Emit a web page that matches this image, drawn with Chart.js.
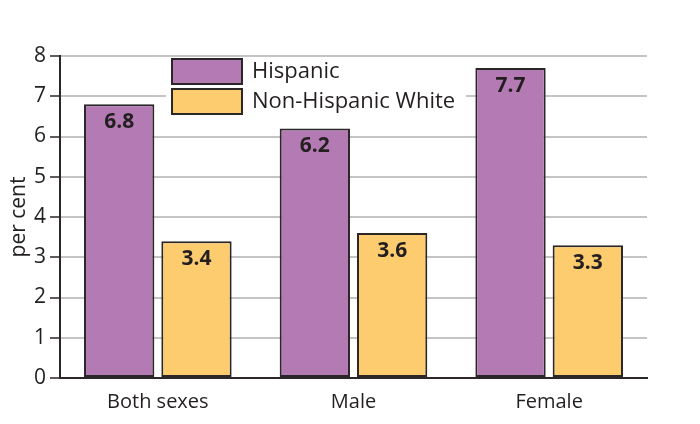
<!DOCTYPE html>
<html>
<head>
<meta charset="utf-8">
<script src="https://cdn.jsdelivr.net/npm/chart.js@4/dist/chart.umd.min.js"></script>
<style>
  html, body { margin: 0; padding: 0; background: #fff; }
  #wrap { width: 700px; height: 424px; position: relative; }
</style>
</head>
<body>
<div id="wrap"><canvas id="rateChart"></canvas></div>
<script>
// chart values
const categories = ['Both sexes', 'Male', 'Female'];
const hispanic = [6.8, 6.2, 7.7];
const nonHispanicWhite = [3.4, 3.6, 3.3];
const yTicks = [0, 1, 2, 3, 4, 5, 6, 7, 8];

const textColor = '#231f20';
const fontFamily = '"Open Sans", "Liberation Sans", sans-serif';

// legend drawn inside the plot, with a white box over the grid
const insideLegend = {
    id: 'insideLegend',
    afterDraw(chart) {
        const ctx = chart.ctx;
        ctx.save();
        ctx.fillStyle = '#fff';
        ctx.fillRect(166, 59, 300, 60);
        chart.data.datasets.forEach((ds, i) => {
            const y = 59 + i * 30;
            ctx.fillStyle = ds.backgroundColor;
            ctx.fillRect(172, y, 70, 25);
            ctx.strokeStyle = ds.borderColor;
            ctx.lineWidth = 2;
            ctx.strokeRect(172, y, 70, 25);
            ctx.fillStyle = textColor;
            ctx.font = '22px ' + fontFamily;
            ctx.textBaseline = 'middle';
            ctx.textAlign = 'left';
            ctx.fillText(ds.label, 252, y + 13);
        });
        ctx.restore();
    }
};

// value labels near the top of each bar
const barValues = {
    id: 'barValues',
    afterDatasetsDraw(chart) {
        const ctx = chart.ctx;
        ctx.save();
        ctx.fillStyle = textColor;
        ctx.font = 'bold 21px ' + fontFamily;
        ctx.textAlign = 'center';
        ctx.textBaseline = 'middle';
        chart.data.datasets.forEach((ds, i) => {
            chart.getDatasetMeta(i).data.forEach((bar, j) => {
                ctx.fillText(ds.data[j].toFixed(1), bar.x, bar.y + 18);
            });
        });
        ctx.restore();
    }
};

const ctx = document.getElementById('rateChart').getContext('2d');
const rateChart = new Chart(ctx, {
    type: 'bar',
    data: {
        labels: categories,
        datasets: [{
            label: 'Hispanic',
            data: hispanic,
            backgroundColor: '#b47ab4',
            borderColor: '#2b2627',
            borderWidth: 2,
            borderSkipped: false
        }, {
            label: 'Non-Hispanic White',
            data: nonHispanicWhite,
            backgroundColor: '#fdcc6f',
            borderColor: '#2b2627',
            borderWidth: 2,
            borderSkipped: false
        }]
    },
    options: {
        responsive: true,
        maintainAspectRatio: false,
        animation: false,
        devicePixelRatio: 1,
        layout: {
            padding: { top: 56, right: 53, bottom: 0, left: 0 }
        },
        categoryPercentage: 0.79,
        barPercentage: 0.91,
        plugins: {
            legend: { display: false },
            tooltip: { enabled: false }
        },
        scales: {
            x: {
                grid: { display: false, drawTicks: false },
                border: { display: true, color: '#2b2627', width: 2 },
                ticks: {
                    color: textColor,
                    padding: 12,
                    font: { family: fontFamily, size: 20 }
                },
                afterFit: s => { s.height = 46; }
            },
            y: {
                min: 0,
                max: 8,
                afterBuildTicks: s => { s.ticks = yTicks.map(v => ({ value: v })); },
                grid: {
                    color: '#c4c4c6',
                    lineWidth: 2,
                    tickColor: '#2b2627',
                    tickLength: 10,
                    tickWidth: 1.5
                },
                border: { display: true, color: '#2b2627', width: 2 },
                ticks: {
                    color: textColor,
                    padding: 4,
                    font: { family: fontFamily, size: 21 }
                },
                title: {
                    display: true,
                    text: 'per cent',
                    color: textColor,
                    padding: { top: 6, bottom: 0 },
                    font: { family: fontFamily, size: 21 }
                },
                afterFit: s => { s.width = 60; }
            }
        }
    },
    plugins: [insideLegend, barValues]
});
</script>
</body>
</html>
